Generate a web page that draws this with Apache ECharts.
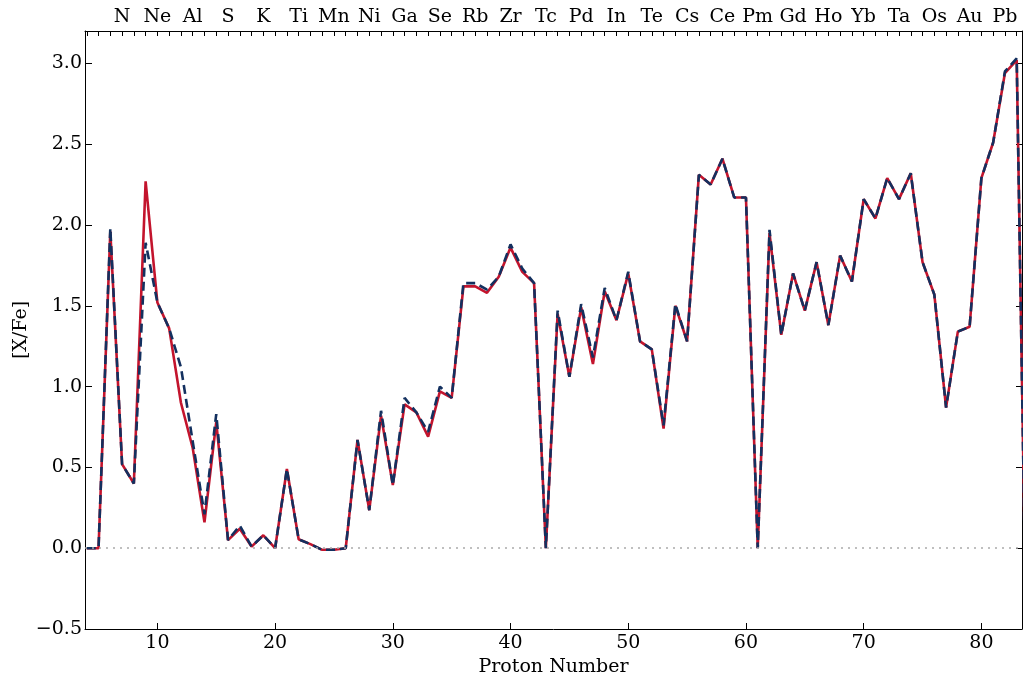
<!DOCTYPE html>
<html>
	<head>
		<meta charset="utf-8">
		<title>[X/Fe]</title>
		<script src="https://cdn.jsdelivr.net/npm/echarts@6/dist/echarts.min.js" type="text/javascript" charset="utf-8"></script>
		<style>
			html, body { margin: 0; padding: 0; background: #fff; }
			#chart { width: 1023px; height: 677px; }
		</style>
	</head>
	<body>
		<div id="chart"></div>
		<script type="text/javascript">
			// 质子数 4..84
			var protonNumbers = [4,5,6,7,8,9,10,11,12,13,14,15,16,17,18,19,20,21,22,23,24,25,26,27,28,29,30,31,32,33,34,35,36,37,38,39,40,41,42,43,44,45,46,47,48,49,50,51,52,53,54,55,56,57,58,59,60,61,62,63,64,65,66,67,68,69,70,71,72,73,74,75,76,77,78,79,80,81,82,83,84];
			// 实线 (红)
			var redValues = [0.00,0.00,1.96,0.52,0.40,2.27,1.52,1.36,0.90,0.62,0.16,0.78,0.05,0.12,0.01,0.08,0.00,0.49,0.055,0.025,-0.01,-0.01,0.00,0.67,0.235,0.82,0.39,0.89,0.84,0.69,0.97,0.93,1.62,1.62,1.58,1.68,1.86,1.71,1.64,0.00,1.45,1.06,1.49,1.14,1.59,1.41,1.70,1.28,1.23,0.74,1.50,1.28,2.31,2.25,2.41,2.17,2.17,0.00,1.95,1.32,1.70,1.47,1.77,1.38,1.81,1.65,2.16,2.04,2.29,2.16,2.32,1.77,1.57,0.87,1.34,1.37,2.29,2.51,2.94,3.02,-1.40];
			// 虚线 (蓝)
			var blueValues = [0.00,0.00,1.98,0.52,0.40,1.89,1.52,1.36,1.12,0.66,0.21,0.83,0.05,0.14,0.01,0.08,0.00,0.49,0.055,0.025,-0.01,-0.01,0.00,0.67,0.235,0.85,0.39,0.93,0.84,0.72,1.00,0.93,1.64,1.64,1.60,1.68,1.88,1.73,1.64,0.00,1.47,1.06,1.51,1.18,1.61,1.41,1.71,1.28,1.23,0.76,1.51,1.28,2.31,2.25,2.41,2.17,2.17,0.00,1.97,1.32,1.70,1.47,1.77,1.38,1.81,1.65,2.16,2.04,2.29,2.16,2.32,1.77,1.57,0.87,1.34,1.37,2.29,2.51,2.95,3.03,-1.45];
			// 顶部元素标签
			var topTickValues = [7,10,13,16,19,22,25,28,31,34,37,40,43,46,49,52,55,58,61,64,67,70,73,76,79,82];
			var elementLabels = ['N','Ne','Al','S','K','Ti','Mn','Ni','Ga','Se','Rb','Zr','Tc','Pd','In','Te','Cs','Ce','Pm','Gd','Ho','Yb','Ta','Os','Au','Pb'];
			var bottomTickValues = [10,20,30,40,50,60,70,80];
			var yTickValues = [-0.5,0.0,0.5,1.0,1.5,2.0,2.5,3.0];

			var fontFam = 'DejaVu Serif';
			var minorTicks = protonNumbers.filter(function(z){ return z <= 83; });

			function zip(xs, ys){
				var out = [];
				for(var i = 0; i < xs.length; i++){
					out.push([xs[i], ys[i]]);
				}
				return out;
			}

			var myChart = echarts.init(document.getElementById('chart'), null, {renderer: 'canvas'});
			var option = {
				backgroundColor: '#fff',
				animation: false,
				grid: {left: 85, right: 1, top: 31, bottom: 48, containLabel: false, outerBoundsMode: 'none'},
				xAxis: [{
					type: 'value',
					min: 3.85,
					max: 83.45,
					position: 'bottom',
					name: 'Proton Number',
					nameLocation: 'middle',
					nameGap: 26,
					nameTextStyle: {fontFamily: fontFam, fontSize: 19, color: '#000'},
					axisLine: {show: true, onZero: false, lineStyle: {color: '#000', width: 1}},
					axisTick: {show: true, inside: true, length: 6, customValues: bottomTickValues, lineStyle: {color: '#000'}},
					axisLabel: {show: true, customValues: bottomTickValues, fontFamily: fontFam, fontSize: 19, color: '#000', margin: 5},
					splitLine: {show: false}
				}, {
					type: 'value',
					min: 3.85,
					max: 83.45,
					position: 'top',
					axisLine: {show: true, onZero: false, lineStyle: {color: '#000', width: 1}},
					axisTick: {show: true, inside: true, length: 5, customValues: minorTicks, lineStyle: {color: '#000'}},
					axisLabel: {
						show: true,
						customValues: topTickValues,
						fontFamily: fontFam, fontSize: 19, color: '#000', margin: 4,
						formatter: function(v){
							var i = topTickValues.indexOf(Math.round(v));
							return i >= 0 ? elementLabels[i] : '';
						}
					},
					splitLine: {show: false}
				}],
				yAxis: [{
					type: 'value',
					min: -0.5,
					max: 3.2,
					position: 'left',
					name: '[X/Fe]',
					nameLocation: 'middle',
					nameGap: 54,
					nameMoveOverlap: false,
					nameRotate: 90,
					nameTextStyle: {fontFamily: fontFam, fontSize: 19, color: '#000'},
					axisLine: {show: true, onZero: false, lineStyle: {color: '#000', width: 1}},
					axisTick: {show: true, inside: true, length: 7, customValues: yTickValues, lineStyle: {color: '#000'}},
					axisLabel: {
						show: true,
						customValues: yTickValues,
						fontFamily: fontFam, fontSize: 19, color: '#000', margin: 3,
						formatter: function(v){ return v.toFixed(1).replace('-', '\u2212'); }
					},
					splitLine: {show: false}
				}, {
					type: 'value',
					min: -0.5,
					max: 3.2,
					position: 'right',
					axisLine: {show: true, onZero: false, lineStyle: {color: '#000', width: 1}},
					axisTick: {show: true, inside: true, length: 6, customValues: yTickValues, lineStyle: {color: '#000'}},
					axisLabel: {show: false},
					splitLine: {show: false}
				}],
				series: [{
					name: 'solid',
					type: 'line',
					xAxisIndex: 0,
					yAxisIndex: 0,
					data: zip(protonNumbers, redValues),
					showSymbol: false,
					symbol: 'none',
					clip: true,
					lineStyle: {color: '#c3142d', width: 2.6},
					markLine: {
						silent: true,
						symbol: 'none',
						label: {show: false},
						lineStyle: {color: '#aaa', type: [2, 5], width: 1.5},
						data: [{yAxis: 0}]
					},
					z: 2
				}, {
					name: 'dashed',
					type: 'line',
					xAxisIndex: 0,
					yAxisIndex: 0,
					data: zip(protonNumbers, blueValues),
					showSymbol: false,
					symbol: 'none',
					clip: true,
					lineStyle: {color: '#13305f', width: 2.6, type: [9, 5]},
					z: 3
				}]
			};
			myChart.setOption(option);
		</script>
	</body>
</html>
